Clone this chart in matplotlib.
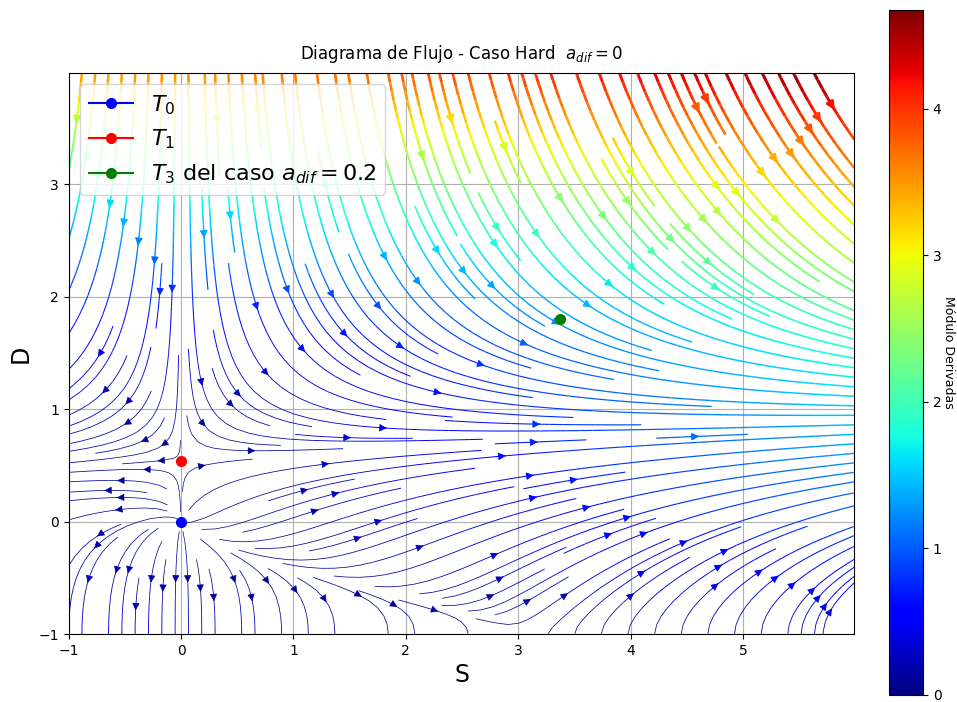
import numpy as np
import matplotlib
matplotlib.use("Agg")
import matplotlib.pyplot as plt
from matplotlib.colors import Normalize

# S-D system, case a_dif = 0
r_s, q_s, p_s = 0.15, 0.13, 0.019     # growth rate of S as a function of D
r_d, b_d = 0.138, 0.255               # logistic term of D
k_inf, k_slope, d_knee, k_width = 0.016, 0.078, 0.36, 0.3   # coupling S -> D (low D)
k_neg, d_mid, d_w = 0.12, 2.0, 0.5                           # coupling S -> D (high D)

# fixed points
T0 = (0.0, 0.0)
T1 = (0.0, r_d / b_d)
T3_adif02 = (3.37, 1.80)

s_lim = (-1.0, 5.99)
d_lim = (-1.0, 3.99)
x_ticks = [-1, 0, 1, 2, 3, 4, 5]
y_ticks = [-1, 0, 1, 2, 3]
cbar_ticks = [0, 1, 2, 3, 4]


def coupling(D):
    ramp = 0.5 * (np.sqrt((d_knee - D) ** 2 + k_width ** 2) + (d_knee - D))
    step = 0.5 * (1.0 + np.tanh((D - d_mid) / d_w))
    return k_inf + k_slope * ramp - k_neg * step


def field(S, D):
    dS = S * (r_s + q_s * D - p_s * D ** 2)
    dD = D * (r_d - b_d * D) + S * coupling(D)
    return dS, dD


s = np.linspace(s_lim[0], s_lim[1], 700)
d = np.linspace(d_lim[0], d_lim[1], 500)
SS, DD = np.meshgrid(s, d)
U, V = field(SS, DD)
speed = np.hypot(U, V)
lw = 0.5 + 1.8 * speed / speed.max()

fig = plt.figure(figsize=(9.57, 7.02), dpi=100)
ax = fig.add_axes([68 / 957, 1 - 634 / 702, 787 / 957, 561 / 702])
cax = fig.add_axes([889 / 957, 1 - 695 / 702, 34 / 957, 685 / 702])

strm = ax.streamplot(SS, DD, U, V, color=speed, cmap="jet",
                     norm=Normalize(0, speed.max()), linewidth=lw,
                     density=2, arrowsize=1.1)

ax.plot([T0[0]], [T0[1]], "o-", color="blue", markersize=7, label=r"$T_0$", zorder=5)
ax.plot([T1[0]], [T1[1]], "o-", color="red", markersize=7, label=r"$T_1$", zorder=5)
ax.plot([T3_adif02[0]], [T3_adif02[1]], "o-", color="green", markersize=7,
        label=r"$T_3$ del caso $a_{dif} = 0.2$", zorder=5)

ax.set_xlim(*s_lim)
ax.set_ylim(*d_lim)
ax.set_aspect("equal")
ax.set_xticks(x_ticks)
ax.set_yticks(y_ticks)
ax.grid(True)
ax.set_xlabel("S", fontsize=17)
ax.set_ylabel("D", fontsize=17)
ax.set_title(r"Diagrama de Flujo - Caso Hard  $a_{dif} = 0$", fontsize=12, pad=10)
ax.legend(loc="upper left", fontsize=16)

cb = fig.colorbar(strm.lines, cax=cax)
cb.set_ticks(cbar_ticks)
cb.set_label("Módulo Derivadas", rotation=270, labelpad=10, fontsize=9)

fig.savefig("out.png", dpi=100)
